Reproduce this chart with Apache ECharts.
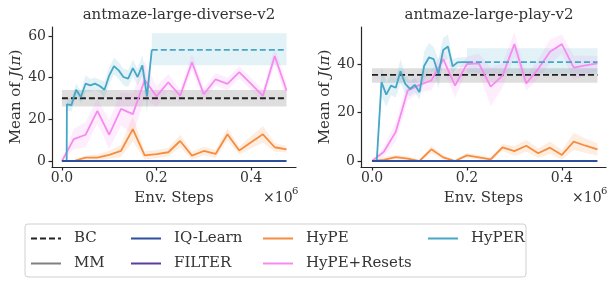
<!DOCTYPE html>
<html><head><meta charset="utf-8">
<script src="https://cdn.jsdelivr.net/npm/echarts@6/dist/echarts.min.js"></script>
<style>html,body{margin:0;padding:0;background:#fff}#c{width:616px;height:285px}</style>
</head><body><div id="c"></div>
<script>
// ---------- data (x in units of 1e6 env. steps) ----------
const xTickValues = [0, 0.2, 0.4];
const yTicksDiverse = [0, 20, 40, 60];
const yTicksPlay = [0, 20, 40];

const evalSteps = [0, 0.025, 0.05, 0.075, 0.1, 0.125, 0.15, 0.175, 0.2, 0.225, 0.25, 0.275, 0.3, 0.325, 0.35, 0.375, 0.4, 0.425, 0.45, 0.475];
const constSteps = [0, 0.475];

// antmaze-large-diverse-v2
const divBC = [30.1, 30.1];
const divBCLo = [26.2, 26.2];
const divBCHi = [34.1, 34.1];
const divIQ = [0, 0, 0, 0, 0, 0, 0, 0, 0, 0, 0, 0, 0, 0, 0, 0, 0, 0, 0, 0];
const divHyPE = [0, 0, 1.6, 1.6, 2.9, 4.9, 15.3, 2.7, 3.3, 4.2, 9.6, 2.6, 4.8, 3.4, 12.8, 5.0, 9.0, 12.8, 6.6, 5.6];
const divHyPESpread = [0, 0.5, 1, 1.5, 2, 3, 6, 2, 2, 2, 3, 2, 2, 2, 3, 2, 3, 4, 2, 1.5];
const divResets = [0, 10.5, 12.6, 24.1, 12.6, 25.0, 22.5, 38.9, 31.0, 37.8, 31.3, 47.4, 32.0, 39.2, 37.0, 42.6, 37.0, 31.3, 50.4, 33.8];
const divResetsSpread = [0, 5, 6, 6, 7, 8, 10, 9, 5, 4, 3, 4, 3, 3, 3, 3, 3, 3, 4, 4];
const divHyPERSteps = [0, 0.01, 0.0105, 0.02, 0.03, 0.04, 0.05, 0.06, 0.07, 0.08, 0.09, 0.10, 0.11, 0.12, 0.13, 0.14, 0.15, 0.16, 0.17, 0.18, 0.19];
const divHyPER = [0, 0, 27.2, 26.8, 34.2, 30.7, 37.1, 36.3, 37.1, 36.0, 34.2, 41.0, 45.5, 43.5, 40.3, 39.5, 44.6, 40.3, 45.9, 31.0, 53.3];
const divHyPERSpread = [0, 0, 3, 3, 3, 3, 4, 3, 3, 3, 4, 4, 4, 4, 4, 4, 4, 4, 5, 8, 0];
const divHyPERFinalSteps = [0.19, 0.475];
const divHyPERFinal = [53.3, 53.3];
const divHyPERFinalLo = [45.9, 45.9];
const divHyPERFinalHi = [61.3, 61.3];

// antmaze-large-play-v2
const playBC = [35.5, 35.5];
const playBCLo = [32.3, 32.3];
const playBCHi = [38.2, 38.2];
const playIQ = [0, 0, 0, 0, 0, 0, 0, 0, 0, 0, 0, 0, 0, 0, 0, 0, 0, 0, 0, 0];
const playHyPE = [0, 0.5, 1.6, 1.0, 0, 4.8, 1.5, 0, 2.3, 1.5, 0.7, 5.6, 4.1, 6.3, 3.2, 5.5, 2.5, 8.0, 6.3, 4.8];
const playHyPESpread = [0, 1, 1, 1, 0.5, 1.5, 1, 0.5, 1, 1, 1, 1.5, 2, 2.5, 2, 2.5, 2, 3.5, 3, 2.5];
const playResets = [0, 3.8, 12.0, 29.0, 31.4, 33.2, 42.0, 31.1, 40.0, 40.3, 30.7, 35.2, 48.2, 32.0, 37.9, 45.1, 48.2, 38.5, 39.4, 40.3];
const playResetsSpread = [0, 2, 4, 4, 3, 4, 4, 5, 3, 4, 8, 5, 5, 3, 4, 5, 4, 5, 4, 3];
const playHyPERSteps = [0, 0.01, 0.02, 0.03, 0.04, 0.05, 0.06, 0.07, 0.08, 0.09, 0.10, 0.11, 0.12, 0.13, 0.14, 0.15, 0.16, 0.17, 0.18, 0.19, 0.20];
const playHyPER = [0, 0, 32.5, 27.4, 31.1, 30.2, 37.0, 31.8, 29.7, 31.4, 28.4, 39.3, 42.7, 42.0, 35.9, 45.8, 47.2, 39.0, 40.7, 40.8, 40.8];
const playHyPERSpread = [0, 0, 6, 5, 4, 4, 5, 4, 3, 3, 3, 6, 6, 5, 6, 5, 5, 3, 2, 2, 2];
const playHyPERFinalSteps = [0.2, 0.475];
const playHyPERFinal = [40.8, 40.8];
const playHyPERFinalLo = [36.0, 36.0];
const playHyPERFinalHi = [46.5, 46.5];

const titles = ['antmaze-large-diverse-v2', 'antmaze-large-play-v2'];

// ---------- styling ----------
const FONT = 'DejaVu Serif';
const TXT = '#333';
const C = {BC: '#222222', MM: '#808080', IQ: '#2d4f9e', FILTER: '#5e3c99', HyPE: '#f58d3f', Resets: '#f78af0', HyPER: '#45a6c6'};

function zip(xs, ys) { return xs.map((x, i) => [x, ys[i]]); }
function line(name, xs, ys, color, gi, z, dash) {
  return {type: 'line', name: name, xAxisIndex: gi, yAxisIndex: gi, data: zip(xs, ys),
    symbol: 'none', showSymbol: false, animation: false, z: z, silent: true,
    lineStyle: {color: color, width: 1.8, type: dash || 'solid'}, itemStyle: {color: color}};
}
function band(xs, lo, hi, color, opacity, gi) {
  const data = xs.map((x, i) => [x, lo[i], hi[i]]);
  return {type: 'custom', xAxisIndex: gi, yAxisIndex: gi, data: data, silent: true, z: 1, animation: false,
    encode: {x: 0, y: [1, 2]},
    renderItem: function (params, api) {
      if (params.dataIndex !== 0) return null;
      const top = data.map(d => api.coord([d[0], d[2]]));
      const bot = data.map(d => api.coord([d[0], d[1]])).reverse();
      return {type: 'polygon', shape: {points: top.concat(bot)}, style: {fill: color, opacity: opacity}};
    }};
}
function spreadLo(m, s) { return m.map((v, i) => v - s[i]); }
function spreadHi(m, s) { return m.map((v, i) => v + s[i]); }

const series = [];
// grid 0
series.push(band(constSteps, divBCLo, divBCHi, '#000', 0.13, 0));
series.push(band(evalSteps, spreadLo(divHyPE, divHyPESpread), spreadHi(divHyPE, divHyPESpread), C.HyPE, 0.15, 0));
series.push(band(evalSteps, spreadLo(divResets, divResetsSpread), spreadHi(divResets, divResetsSpread), C.Resets, 0.15, 0));
series.push(band(divHyPERSteps, spreadLo(divHyPER, divHyPERSpread), spreadHi(divHyPER, divHyPERSpread), C.HyPER, 0.15, 0));
series.push(band(divHyPERFinalSteps, divHyPERFinalLo, divHyPERFinalHi, C.HyPER, 0.15, 0));
series.push(line('BC', constSteps, divBC, C.BC, 0, 5, [6, 3]));
series.push(line('MM', [], [], C.MM, 0, 5));
series.push(line('FILTER', [], [], C.FILTER, 0, 5));
series.push(line('HyPE', evalSteps, divHyPE, C.HyPE, 0, 6));
series.push(line('HyPE+Resets', evalSteps, divResets, C.Resets, 0, 7));
series.push(line('HyPER', divHyPERSteps, divHyPER, C.HyPER, 0, 8));
series.push(line('HyPER ', divHyPERFinalSteps, divHyPERFinal, C.HyPER, 0, 8, [6, 3]));
series.push(line('IQ-Learn', evalSteps, divIQ, C.IQ, 0, 9));
// grid 1
series.push(band(constSteps, playBCLo, playBCHi, '#000', 0.13, 1));
series.push(band(evalSteps, spreadLo(playHyPE, playHyPESpread), spreadHi(playHyPE, playHyPESpread), C.HyPE, 0.15, 1));
series.push(band(evalSteps, spreadLo(playResets, playResetsSpread), spreadHi(playResets, playResetsSpread), C.Resets, 0.15, 1));
series.push(band(playHyPERSteps, spreadLo(playHyPER, playHyPERSpread), spreadHi(playHyPER, playHyPERSpread), C.HyPER, 0.15, 1));
series.push(band(playHyPERFinalSteps, playHyPERFinalLo, playHyPERFinalHi, C.HyPER, 0.15, 1));
series.push(line('BC', constSteps, playBC, C.BC, 1, 5, [6, 3]));
series.push(line('HyPE', evalSteps, playHyPE, C.HyPE, 1, 6));
series.push(line('HyPE+Resets', evalSteps, playResets, C.Resets, 1, 7));
series.push(line('HyPER', playHyPERSteps, playHyPER, C.HyPER, 1, 8));
series.push(line('HyPER ', playHyPERFinalSteps, playHyPERFinal, C.HyPER, 1, 8, [6, 3]));
series.push(line('IQ-Learn', evalSteps, playIQ, C.IQ, 1, 9));

const axisLine = {show: true, onZero: false, lineStyle: {color: '#262626', width: 1.2}};
const tick = {show: true, inside: false, length: 3.5, lineStyle: {color: '#262626', width: 1.2}};
function xAxis(gi, min, max) {
  return {type: 'value', gridIndex: gi, min: min, max: max, splitLine: {show: false},
    axisLine: axisLine, axisTick: Object.assign({customValues: xTickValues}, tick),
    axisLabel: {customValues: xTickValues, formatter: v => v.toFixed(1), color: TXT, fontFamily: FONT, fontSize: 14, margin: 4},
    name: 'Env. Steps', nameLocation: 'middle', nameGap: 24,
    nameTextStyle: {color: TXT, fontFamily: FONT, fontSize: 15}};
}
function yAxis(gi, min, max, ticks) {
  return {type: 'value', gridIndex: gi, min: min, max: max, splitLine: {show: false},
    axisLine: axisLine, axisTick: Object.assign({customValues: ticks}, tick),
    axisLabel: {customValues: ticks, color: TXT, fontFamily: FONT, fontSize: 14, margin: 6},
    name: 'Mean of {i|J}({i|π})', nameLocation: 'middle', nameGap: 28,
    nameTextStyle: {color: TXT, fontFamily: FONT, fontSize: 15, rich: {i: {fontStyle: 'italic', fontFamily: FONT, fontSize: 15, color: TXT}}}};
}
const legText = {color: TXT, fontFamily: FONT, fontSize: 15, lineHeight: 14, padding: [0, 0, 0, 8]};
function legend(left, names) {
  return {orient: 'vertical', left: left, top: 231, padding: 0, itemWidth: 30, itemHeight: 14, itemGap: 10,
    data: names, textStyle: legText, selectedMode: false,
    itemStyle: {opacity: 0, borderWidth: 0}};
}

const chart = echarts.init(document.getElementById('c'), null, {renderer: 'canvas'});
chart.setOption({
  animation: false,
  backgroundColor: '#fff',
  title: [
    {text: titles[0], left: 174, top: 3, textAlign: 'center', textStyle: {color: TXT, fontFamily: FONT, fontSize: 15, fontWeight: 'normal'}},
    {text: titles[1], left: 484, top: 3, textAlign: 'center', textStyle: {color: TXT, fontFamily: FONT, fontSize: 15, fontWeight: 'normal'}}
  ],
  grid: [
    {left: 52, top: 27, width: 244, height: 140},
    {left: 361, top: 27, width: 245, height: 140}
  ],
  xAxis: [xAxis(0, -0.021, 0.495), xAxis(1, -0.0232, 0.493)],
  yAxis: [yAxis(0, -2.88, 64.3, yTicksDiverse), yAxis(1, -2.47, 55.26, yTicksPlay)],
  legend: [
    legend(30, ['BC', 'MM']),
    legend(130, ['IQ-Learn', 'FILTER']),
    legend(262, ['HyPE', 'HyPE+Resets']),
    legend(427, ['HyPER'])
  ],
  graphic: [
    {type: 'rect', z: -1, shape: {x: 25, y: 224, width: 501, height: 53, r: 3}, style: {fill: '#fff', stroke: '#d0d0d0', lineWidth: 1}},
    {type: 'text', x: 263, y: 191, style: {text: '×10', fill: TXT, font: '14px "DejaVu Serif"'}},
    {type: 'text', x: 292, y: 186, style: {text: '6', fill: TXT, font: '10px "DejaVu Serif"'}},
    {type: 'text', x: 572, y: 191, style: {text: '×10', fill: TXT, font: '14px "DejaVu Serif"'}},
    {type: 'text', x: 601, y: 186, style: {text: '6', fill: TXT, font: '10px "DejaVu Serif"'}}
  ],
  series: series
});
</script></body></html>
